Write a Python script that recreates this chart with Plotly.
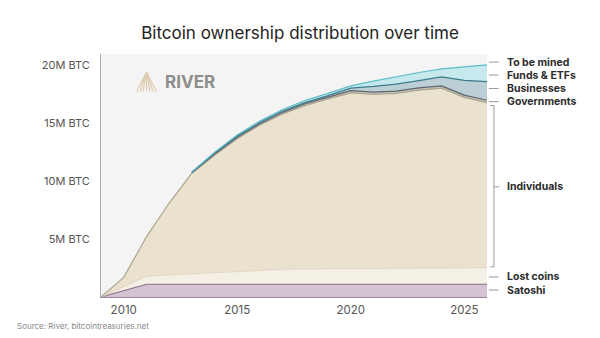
import numpy as np
import plotly.graph_objects as go

years = list(range(2009, 2027))
satoshi = [0, 0.55, 1.1, 1.1, 1.1, 1.1, 1.1, 1.1, 1.1, 1.1, 1.1, 1.1, 1.1, 1.1, 1.1, 1.1, 1.1, 1.1]
lost_coins = [0, 0.35, 0.7, 0.8, 0.9, 1.0, 1.1, 1.2, 1.3, 1.32, 1.33, 1.35, 1.36, 1.38, 1.4, 1.41, 1.43, 1.44]
individuals = [0, 0.8, 3.4, 6.2, 8.7, 10.15, 11.48, 12.56, 13.41, 14.13, 14.69, 15.19, 15.04, 15.12, 15.37, 15.54, 14.72, 14.26]
governments = [0, 0, 0, 0, 0.03, 0.1, 0.12, 0.12, 0.15, 0.15, 0.15, 0.2, 0.2, 0.2, 0.2, 0.2, 0.2, 0.2]
businesses = [0, 0, 0, 0, 0.05, 0.1, 0.12, 0.12, 0.12, 0.12, 0.13, 0.21, 0.5, 0.6, 0.63, 0.77, 1.27, 1.61]
funds_etfs = [0, 0, 0, 0, 0.02, 0.05, 0.08, 0.1, 0.12, 0.18, 0.2, 0.2, 0.45, 0.65, 0.7, 0.7, 1.16, 1.45]
to_be_mined = [21, 19.3, 15.8, 12.9, 10.2, 8.5, 7.0, 5.8, 4.8, 4.0, 3.4, 2.75, 2.35, 1.95, 1.6, 1.28, 1.12, 0.94]
first_year_institutional = 2013

y_tickvals = [5, 10, 15, 20]
y_ticktext = ["5M BTC", "10M BTC", "15M BTC", "20M BTC"]
x_tickvals = [2010, 2015, 2020, 2025]

series = [
    ("Satoshi", satoshi, "#d4c3d2", "#8c6c87"),
    ("Lost coins", lost_coins, "#f5f0e6", "#e3d8c6"),
    ("Individuals", individuals, "#ebe1cf", "#a8a68e"),
    ("Governments", governments, "#c8c2b8", "#5d646c"),
    ("Businesses", businesses, "#bccfd6", "#3c7b8b"),
    ("Funds & ETFs", funds_etfs, "#c5e9ed", "#5cbcc7"),
    ("To be mined", to_be_mined, "#f4f4f4", None),
]

fig = go.Figure()
# stacked fills
for name, vals, fillc, linec in series:
    fig.add_trace(go.Scatter(
        x=years, y=vals, name=name, stackgroup="one", mode="lines",
        fillcolor=fillc, line=dict(color=fillc, width=0),
        hoverinfo="skip",
    ))

# boundary lines on top of fills (cumulative tops of each layer)
cum = np.cumsum(np.array([s[1] for s in series[:-1]], dtype=float), axis=0)
yr = np.array(years)
for i, (name, vals, fillc, linec) in enumerate(series[:-1]):
    top = cum[i].copy()
    if name in ("Governments", "Businesses", "Funds & ETFs"):
        top = np.where(yr >= first_year_institutional, top, np.nan)
    fig.add_trace(go.Scatter(
        x=years, y=top, mode="lines", line=dict(color=linec, width=1.2),
        hoverinfo="skip", showlegend=False, connectgaps=False,
    ))

# right-side labels (y in data units)
label_names = ["To be mined", "Funds & ETFs", "Businesses", "Governments", "Individuals", "Lost coins", "Satoshi"]
label_y = [20.3, 19.18, 18.02, 16.88, 9.52, 1.73, 0.6]

annotations = []
shapes = []
for nm, yy in zip(label_names, label_y):
    annotations.append(dict(x=1.046, y=yy, xref="paper", yref="y", text=nm, showarrow=False,
                            xanchor="left", yanchor="middle",
                            font=dict(family="Inter", size=10.5, color="#2b2b2b", weight="bold")))
    if nm != "Individuals":
        shapes.append(dict(type="line", xref="paper", yref="y", x0=1.005, x1=1.030, y0=yy, y1=yy,
                           line=dict(color="#9a9a9a", width=1)))

# bracket for Individuals
br_top, br_bot, br_mid = 16.55, 2.6, 9.52
shapes += [
    dict(type="line", xref="paper", yref="y", x0=1.018, x1=1.018, y0=br_bot, y1=br_top, line=dict(color="#9a9a9a", width=1)),
    dict(type="line", xref="paper", yref="y", x0=1.008, x1=1.018, y0=br_top, y1=br_top, line=dict(color="#9a9a9a", width=1)),
    dict(type="line", xref="paper", yref="y", x0=1.008, x1=1.018, y0=br_bot, y1=br_bot, line=dict(color="#9a9a9a", width=1)),
    dict(type="line", xref="paper", yref="y", x0=1.018, x1=1.032, y0=br_mid, y1=br_mid, line=dict(color="#9a9a9a", width=1)),
]

# RIVER logo (decorative)
for dx in [-0.026, -0.017, -0.009, 0.0, 0.009, 0.017, 0.026]:
    shapes.append(dict(type="line", xref="paper", yref="paper", x0=0.118, y0=0.925,
                       x1=0.118 + dx, y1=0.845, line=dict(color="#dccbae", width=1.2)))
annotations.append(dict(x=0.16, y=0.885, xref="paper", yref="paper", text="RIVER", showarrow=False,
                        xanchor="left", yanchor="middle",
                        font=dict(family="Inter", size=17, color="#8d8d8d", weight="bold")))

annotations.append(dict(x=-86 / 386, y=-29 / 243, xref="paper", yref="paper",
                        text="Source: River, bitcointreasuries.net", showarrow=False,
                        xanchor="left", yanchor="middle",
                        font=dict(family="Inter", size=8, color="#8a8a8a")))

fig.update_layout(
    width=600, height=338,
    margin=dict(l=101, r=113, t=54, b=41),
    paper_bgcolor="white", plot_bgcolor="#f4f4f4",
    showlegend=False,
    title=dict(text="Bitcoin ownership distribution over time", x=0.5, xanchor="center",
               y=1 - 33 / 338, yanchor="middle", font=dict(family="Inter", size=17, color="#222222")),
    font=dict(family="Inter", color="#555555"),
    annotations=annotations, shapes=shapes,
)
fig.update_xaxes(range=[2009, 2026], tickvals=x_tickvals, showgrid=False, zeroline=False,
                 showline=True, linecolor="#9c8898", linewidth=1, ticks="",
                 tickfont=dict(size=11.5, color="#555555"), ticklabelstandoff=2)
fig.update_yaxes(range=[0, 21], tickvals=y_tickvals, ticktext=y_ticktext, showgrid=False, zeroline=False,
                 showline=True, linecolor="#aaaaaa", linewidth=1, ticks="",
                 tickfont=dict(size=11, color="#555555"), ticklabelstandoff=8)

fig.write_html("out.html")
